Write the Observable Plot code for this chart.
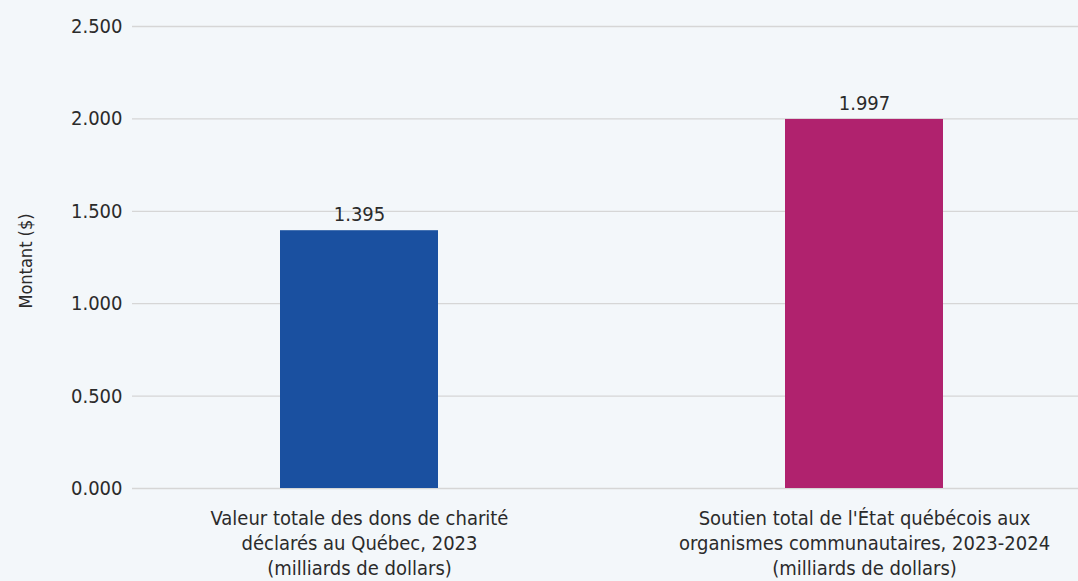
<!DOCTYPE html>
<html>
<head>
<meta charset="utf-8">
<script src="https://cdn.jsdelivr.net/npm/d3@7"></script>
<script src="https://cdn.jsdelivr.net/npm/@observablehq/plot@0.6"></script>
<style>
  html, body { margin: 0; padding: 0; background: #f3f7fa; }
  #chart { width: 1078px; height: 581px; overflow: hidden; }
  #chart svg { font-family: "Liberation Sans Narrow", "DejaVu Sans Condensed", "Roboto", sans-serif; font-stretch: condensed; }
</style>
</head>
<body>
<div id="chart"></div>
<script>
const categories = [
  "Valeur totale des dons de charité\ndéclarés au Québec, 2023\n(milliards de dollars)",
  "Soutien total de l'État québécois aux\norganismes communautaires, 2023-2024\n(milliards de dollars)"
];
const values = [1.395, 1.997];
const colors = ["#1a50a0", "#b0226e"];
const yTicks = [0, 0.5, 1, 1.5, 2, 2.5];
const yLabel = "Montant ($)";

const data = categories.map((c, i) => ({ category: c, value: values[i], color: colors[i] }));
const fmt = v => v.toFixed(3);

const chart = Plot.plot({
  width: 1078,
  height: 581,
  marginLeft: 132,
  marginRight: -13,
  marginTop: 26,
  marginBottom: 93,
  style: { background: "#f3f7fa", color: "#2b2b2b", fontSize: "20px" },
  x: { domain: categories, paddingInner: 0.687, paddingOuter: 0.293, label: null },
  y: { domain: [0, 2.5], ticks: yTicks, label: null, tickFormat: fmt },
  marks: [
    Plot.gridY(yTicks, { stroke: "#d6d6d6", strokeOpacity: 1, strokeWidth: 1.3 }),
    Plot.axisY({ ticks: yTicks, tickSize: 0, tickPadding: 10, tickFormat: fmt, fontSize: 20, label: null }),
    Plot.axisX({ tickSize: 0, tickPadding: 19, fontSize: 20, lineHeight: 1.24, label: null }),
    Plot.barY(data, { x: "category", y: "value", fill: "color" }),
    Plot.text(data, { x: "category", y: "value", text: d => fmt(d.value), dy: -16, fontSize: 20, fill: "#2b2b2b" })
  ]
});

// y-axis title
const svg = d3.select(chart);
svg.append("text")
  .attr("transform", "translate(27,261) rotate(-90)")
  .attr("text-anchor", "middle")
  .attr("dominant-baseline", "middle")
  .attr("font-size", 18)
  .attr("fill", "#2b2b2b")
  .text(yLabel);

document.getElementById("chart").appendChild(chart);
</script>
</body>
</html>
